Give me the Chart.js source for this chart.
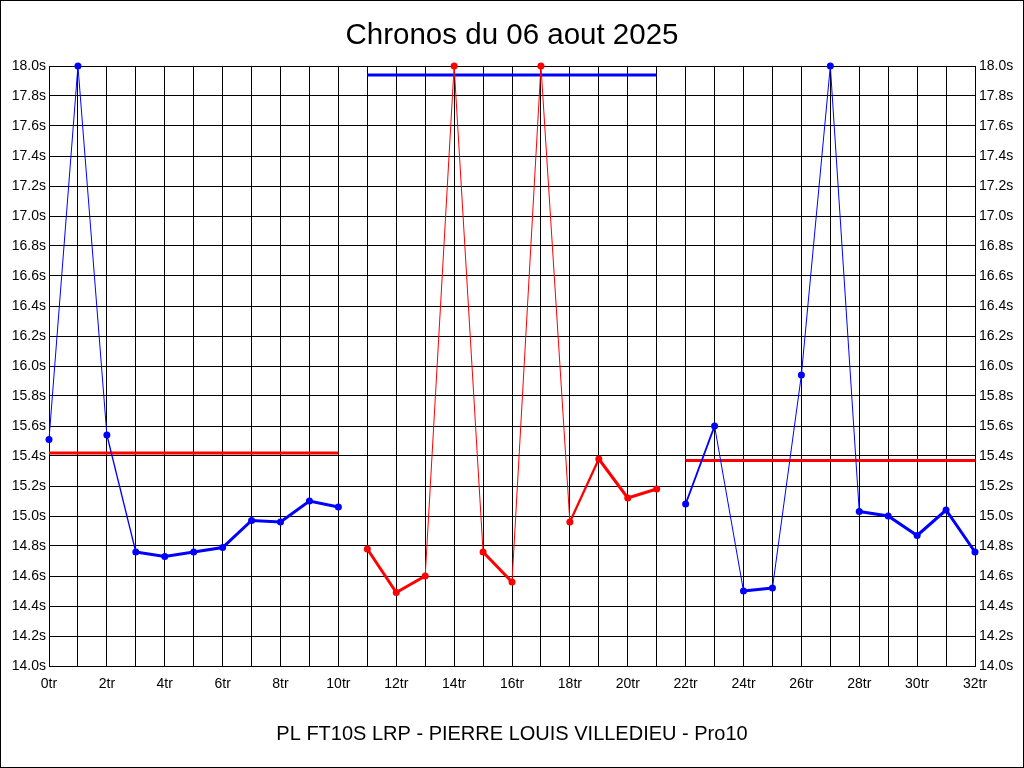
<!DOCTYPE html>
<html>
<head>
<meta charset="utf-8">
<script src="https://cdn.jsdelivr.net/npm/chart.js@4.4.1/dist/chart.umd.min.js"></script>
<style>
  html, body { margin: 0; padding: 0; background: #fff; }
  canvas { display: block; }
</style>
</head>
<body>
<canvas id="c" width="1024" height="768"></canvas>
<script>
// ---- Data ----
const chartTitle = 'Chronos du 06 aout 2025';
const driverLabel = 'PL FT10S LRP - PIERRE LOUIS VILLEDIEU - Pro10';

const laps = [0,1,2,3,4,5,6,7,8,9,10,11,12,13,14,15,16,17,18,19,20,21,22,23,24,25,26,27,28,29,30,31,32];
const lapTimes = [
  15.51, 18.00, 15.54, 14.76, 14.73, 14.76, 14.79, 14.97, 14.96, 15.10, 15.06,
  14.78, 14.49, 14.60, 18.00, 14.76, 14.56, 18.00, 14.96, 15.38, 15.12, 15.18,
  15.08, 15.60, 14.50, 14.52, 15.94, 18.00, 15.03, 15.00, 14.87, 15.04, 14.76
];
const stintStart = [0, 11, 22];
const stintEnd = [10, 21, 32];
const stintColors = ['#0000ff', '#ff0000', '#0000ff'];
const stintAverages = [15.42, 17.94, 15.37];
const averageColors = ['#ff0000', '#0000ff', '#ff0000'];

const yMin = 14.0, yMax = 18.0, yStep = 0.2;
const xMin = 0, xMax = 32, xLabelEvery = 2;

// ---- Build datasets ----
const datasets = [];
stintStart.forEach((s, i) => {
  const pts = [];
  for (let k = 0; k < laps.length; k++) {
    if (laps[k] >= s && laps[k] <= stintEnd[i]) pts.push({ x: laps[k], y: lapTimes[k] });
  }
  datasets.push({
    data: pts,
    borderColor: stintColors[i],
    backgroundColor: stintColors[i],
    pointBackgroundColor: stintColors[i],
    pointBorderColor: stintColors[i],
    pointRadius: 3.5,
    pointBorderWidth: 0,
    borderWidth: 3,
    tension: 0,
    clip: 6,
    segment: {
      borderWidth: ctx => {
        const dx = ctx.p1.x - ctx.p0.x, dy = ctx.p1.y - ctx.p0.y;
        const c = Math.abs(dx) / Math.hypot(dx, dy);
        return Math.max(1, Math.min(3, 3 * c * 1.8));
      }
    }
  });
});
stintStart.forEach((s, i) => {
  datasets.push({
    data: [{ x: s, y: stintAverages[i] }, { x: stintEnd[i], y: stintAverages[i] }],
    borderColor: averageColors[i],
    borderWidth: 3,
    pointRadius: 0,
    tension: 0,
    clip: 6
  });
});

const frame = {
  id: 'frame',
  beforeDraw(chart) {
    const g = chart.ctx;
    g.save();
    g.fillStyle = '#fff';
    g.fillRect(0, 0, chart.width, chart.height);
    g.restore();
  },
  afterDraw(chart) {
    const g = chart.ctx;
    g.save();
    g.strokeStyle = '#000';
    g.lineWidth = 1;
    g.strokeRect(0.5, 0.5, chart.width - 1, chart.height - 1);
    g.restore();
  }
};

const tickFont = { family: 'Liberation Sans, Arial, sans-serif', size: 14 };

new Chart(document.getElementById('c'), {
  type: 'line',
  data: { datasets },
  plugins: [frame],
  options: {
    responsive: false,
    animation: false,
    layout: { padding: 0 },
    plugins: {
      legend: { display: false },
      tooltip: { enabled: false },
      title: {
        display: true,
        text: chartTitle,
        color: '#000',
        font: { family: 'Liberation Sans, Arial, sans-serif', size: 29.5, weight: 'normal' },
        padding: { top: 18, bottom: 12.6 }
      }
    },
    scales: {
      x: {
        type: 'linear',
        min: xMin, max: xMax,
        border: { color: '#000', width: 1 },
        grid: { color: '#000', lineWidth: 1, drawTicks: false },
        ticks: {
          stepSize: 1,
          autoSkip: false,
          maxRotation: 0,
          padding: 10,
          color: '#000',
          font: tickFont,
          callback: v => (v % xLabelEvery === 0 ? v + 'tr' : '')
        },
        title: {
          display: true,
          text: driverLabel,
          color: '#000',
          font: { family: 'Liberation Sans, Arial, sans-serif', size: 20 },
          padding: { top: 0, bottom: 21.5 }
        },
        afterFit: s => { s.height = 102; }
      },
      y: {
        position: 'left',
        min: yMin, max: yMax,
        border: { color: '#000', width: 1 },
        grid: { color: '#000', lineWidth: 1, drawTicks: false },
        ticks: {
          stepSize: yStep,
          padding: 3,
          color: '#000',
          font: tickFont,
          callback: v => Number(v).toFixed(1) + 's'
        },
        afterFit: s => { s.width = 49; }
      },
      y2: {
        position: 'right',
        min: yMin, max: yMax,
        border: { color: '#000', width: 1 },
        grid: { drawOnChartArea: false, drawTicks: false },
        ticks: {
          stepSize: yStep,
          padding: 4,
          color: '#000',
          font: tickFont,
          callback: v => Number(v).toFixed(1) + 's'
        },
        afterFit: s => { s.width = 49; }
      }
    }
  }
});
</script>
</body>
</html>
